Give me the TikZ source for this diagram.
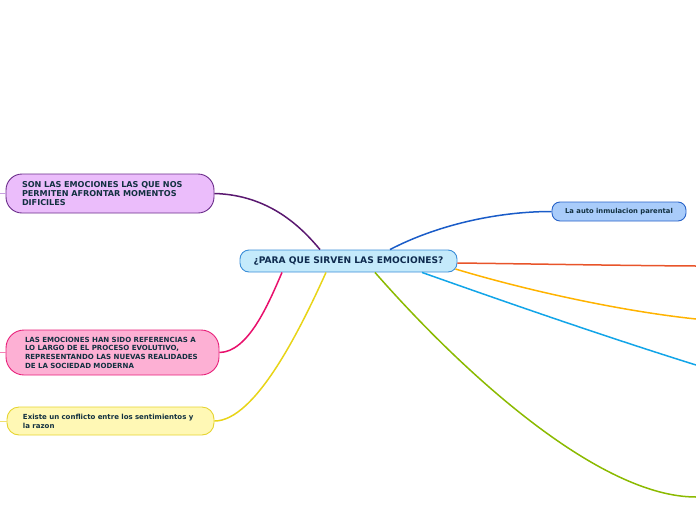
\documentclass[tikz,border=0pt]{standalone}
\usepackage{fontspec}
\setmainfont{DejaVu Sans}
\definecolor{txt}{HTML}{123040}
\definecolor{ctxt}{HTML}{0E2A4E}
\definecolor{pfill}{HTML}{EBBDFB}\definecolor{pdraw}{HTML}{6B2D8A}\definecolor{pline}{HTML}{5A1870}\definecolor{pstub}{HTML}{C8A0E0}
\definecolor{kfill}{HTML}{FDB0D4}\definecolor{kdraw}{HTML}{E8207A}\definecolor{kline}{HTML}{E8106C}\definecolor{kstub}{HTML}{F580B5}
\definecolor{yfill}{HTML}{FFF8B5}\definecolor{ydraw}{HTML}{E6D430}\definecolor{yline}{HTML}{E8D418}\definecolor{ystub}{HTML}{F0E070}
\definecolor{cfill}{HTML}{C4EAFB}\definecolor{cdraw}{HTML}{3B8ED8}
\definecolor{bfill}{HTML}{A9CCFA}\definecolor{bdraw}{HTML}{2863C8}\definecolor{bline}{HTML}{1A5CC8}
\definecolor{rline}{HTML}{E8542A}\definecolor{oline}{HTML}{FFB300}\definecolor{cline}{HTML}{12A5E8}\definecolor{gline}{HTML}{8BBA00}
\begin{document}
\begin{tikzpicture}[x=1pt,y=-1pt,
  box/.style={draw,line width=0.9pt,inner ysep=0pt,align=left,font=\bfseries,text=txt},
  conn/.style={line width=1.5pt},
  stub/.style={line width=1pt}]
\useasboundingbox (0,0) rectangle (696,520);
\node[box,fill=cfill,draw=cdraw,rounded corners=9pt,minimum width=217pt,minimum height=22pt,inner xsep=0pt,align=center,font=\bfseries\fontsize{9.1}{11}\selectfont,text=ctxt] (c) at (348.5,261) {¿PARA QUE SIRVEN LAS EMOCIONES?};
\node[box,fill=pfill,draw=pdraw,rounded corners=16pt,minimum width=208pt,minimum height=39pt,inner xsep=16pt,text width=176pt,font=\bfseries\fontsize{8.1}{9}\selectfont] (n1) at (110,193.5) {SON LAS EMOCIONES LAS QUE NOS\\PERMITEN AFRONTAR MOMENTOS\\DIFICILES};
\node[box,fill=kfill,draw=kdraw,rounded corners=18pt,minimum width=213pt,minimum height=45pt,inner xsep=19pt,text width=175pt,font=\bfseries\fontsize{7.05}{8.7}\selectfont] (n2) at (112.5,352.5) {LAS EMOCIONES HAN SIDO REFERENCIAS A\\LO LARGO DE EL PROCESO EVOLUTIVO,\\REPRESENTANDO LAS NUEVAS REALIDADES\\DE LA SOCIEDAD MODERNA};
\node[box,fill=yfill,draw=ydraw,rounded corners=12pt,minimum width=207pt,minimum height=28pt,inner xsep=16pt,text width=175pt,font=\bfseries\fontsize{7}{9}\selectfont] (n3) at (110.5,421) {Existe un conflicto entre los sentimientos y\\la razon};
\node[box,fill=bfill,draw=bdraw,rounded corners=8pt,minimum width=134pt,minimum height=19pt,inner xsep=0pt,align=center,font=\bfseries\fontsize{6.8}{8}\selectfont] (n4) at (619,211.5) {La auto inmulacion parental};
\coordinate (e1) at (696,266);
\coordinate (e2) at (696,319);
\coordinate (e3) at (696,365);
\coordinate (e4) at (696,497);
\coordinate (s1) at (0,193.5);
\coordinate (s2) at (0,352.5);
\coordinate (s3) at (0,421);
\draw[conn,pline] (n1.east) .. controls (270,195) and (302,228) .. ([xshift=-28.5pt]c.north);
\draw[conn,kline] (n2.east) .. controls (248,352) and (268,305) .. ([xshift=-66.5pt]c.south);
\draw[conn,yline] (n3.east) .. controls (255,421) and (300,330) .. ([xshift=-22.5pt]c.south);
\draw[conn,bline] ([xshift=41.5pt]c.north) .. controls (435,226) and (495,211.5) .. (n4.west);
\draw[conn,rline] ([yshift=-2pt]c.east) .. controls (540,264) and (620,265.5) .. (e1);
\draw[conn,oline] ([xshift=-2pt,yshift=-8pt]c.east) .. controls (525,290) and (620,311) .. (e2);
\draw[conn,cline] ([xshift=73.5pt]c.south) .. controls (500,300) and (600,335) .. (e3);
\draw[conn,gline] ([xshift=26.5pt]c.south) .. controls (465,375) and (600,497) .. (e4);
\draw[stub,pstub] (n1.west) -- (s1);
\draw[stub,kstub] (n2.west) -- (s2);
\draw[stub,ystub] (n3.west) -- (s3);
\end{tikzpicture}
\end{document}
